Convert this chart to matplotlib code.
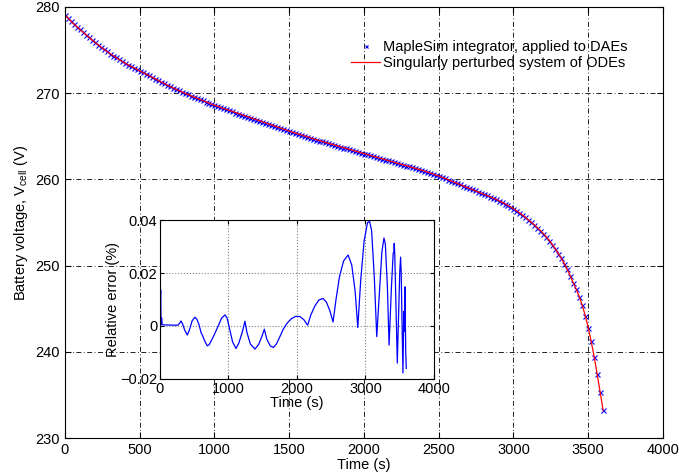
"""Battery voltage: MapleSim DAE integrator vs singularly perturbed ODEs."""

import numpy as np
import matplotlib as mpl
mpl.use('Agg')
from matplotlib import pyplot as plt
from matplotlib.ticker import FuncFormatter

plt.rcParams['font.family'] = ['Liberation Sans', 'DejaVu Sans']
plt.rcParams['font.size'] = 10.5

# main curve, one value every 20 s
time_s = np.arange(0, 3601, 20)
v_daes = [
    279.10, 278.72, 278.36, 278.02, 277.70, 277.40,
    277.10, 276.80, 276.50, 276.20, 275.90,
    275.63, 275.36, 275.10, 274.85, 274.60,
    274.37, 274.15, 273.93, 273.71, 273.50,
    273.31, 273.13, 272.95, 272.77, 272.60,
    272.42, 272.24, 272.06, 271.88, 271.70,
    271.52, 271.34, 271.16, 270.98, 270.80,
    270.64, 270.48, 270.32, 270.16, 270.00,
    269.86, 269.72, 269.58, 269.44, 269.30,
    269.16, 269.02, 268.88, 268.74, 268.60,
    268.48, 268.36, 268.24, 268.12, 268.00,
    267.88, 267.76, 267.64, 267.52, 267.40,
    267.28, 267.16, 267.04, 266.92, 266.80,
    266.68, 266.56, 266.44, 266.32, 266.20,
    266.08, 265.96, 265.84, 265.72, 265.60,
    265.49, 265.38, 265.27, 265.16, 265.05,
    264.94, 264.83, 264.72, 264.61, 264.50,
    264.40, 264.30, 264.20, 264.10, 264.00,
    263.90, 263.80, 263.70, 263.60, 263.50,
    263.40, 263.30, 263.20, 263.10, 263.00,
    262.90, 262.80, 262.70, 262.60, 262.50,
    262.40, 262.30, 262.20, 262.10, 262.00,
    261.90, 261.80, 261.70, 261.60, 261.50,
    261.40, 261.30, 261.20, 261.10, 261.00,
    260.88, 260.76, 260.64, 260.52, 260.40,
    260.26, 260.12, 259.98, 259.84, 259.70,
    259.56, 259.42, 259.28, 259.14, 259.00,
    258.86, 258.72, 258.58, 258.44, 258.30,
    258.15, 258.00, 257.85, 257.70, 257.55,
    257.38, 257.20, 257.01, 256.81, 256.60,
    256.37, 256.12, 255.86, 255.59, 255.30,
    255.02, 254.72, 254.40, 254.06, 253.70,
    253.32, 252.90, 252.44, 251.94, 251.40,
    250.85, 250.23, 249.55, 248.81, 248.00,
    247.25, 246.40, 245.40, 244.20, 242.80,
    241.20, 239.40, 237.40, 235.30, 233.20,
]
v_odes = list(v_daes)  # the two solutions coincide at this scale

# relative error between the two (%)
err_t = [0, 10, 16, 24, 32, 45, 100, 200, 260, 280, 307, 330, 360, 399, 430,
         470, 511, 540, 570, 600, 620, 650, 691, 720, 780, 850, 900, 950,
         980, 1020, 1060, 1110, 1150, 1200, 1241, 1270, 1320, 1387, 1440,
         1490, 1524, 1560, 1610, 1655, 1700, 1760, 1800, 1860, 1920, 1980,
         2040, 2100, 2156, 2200, 2260, 2320, 2380, 2430, 2480, 2527, 2570,
         2620, 2680, 2746, 2800, 2850, 2888, 2930, 2980, 3030, 3060, 3090,
         3130, 3165, 3200, 3240, 3270, 3290, 3320, 3345, 3380, 3405, 3415,
         3420, 3428, 3465, 3500, 3513, 3522, 3547, 3560, 3567, 3577, 3588,
         3596]
err_pct = [0.0005, 0.0137, 0.0005, 0.0030, 0.0006, 0.0004, 0.0004, 0.0003,
           0.0003, 0.0008, 0.0019, 0.0008, -0.0015, -0.0034, -0.0015,
           0.0020, 0.0033, 0.0025, 0.0005, -0.0025, -0.0035, -0.0055,
           -0.0075, -0.0070, -0.0040, 0.0000, 0.0030, 0.0042, 0.0030,
           -0.0015, -0.0060, -0.0085, -0.0065, -0.0025, 0.0018, -0.0025,
           -0.0068, -0.0087, -0.0070, -0.0038, -0.0012, -0.0050, -0.0075,
           -0.0081, -0.0068, -0.0035, -0.0012, 0.0012, 0.0028, 0.0036,
           0.0036, 0.0024, 0.0003, 0.0040, 0.0075, 0.0098, 0.0104, 0.0090,
           0.0058, 0.0015, 0.0100, 0.0185, 0.0245, 0.0268, 0.0230, 0.0130,
           -0.0006, 0.0170, 0.0320, 0.0390, 0.0395, 0.0360, 0.0180, -0.0040,
           0.0110, 0.0280, 0.0332, 0.0310, 0.0150, -0.0072, 0.0150, 0.0275,
           0.0280, 0.0312, 0.0270, -0.0140, 0.0200, 0.0260, 0.0200, -0.0177,
           0.0055, -0.0020, 0.0148, -0.0100, -0.0160]

fig = plt.figure(figsize=(6.79, 4.76), dpi=100)
ax = fig.add_axes([0.0957, 0.0798, 0.8807, 0.9055])

ax.plot(time_s, v_daes, 'x', color='blue', markersize=3.6, markeredgewidth=0.8,
        label='MapleSim integrator, applied to DAEs')
ax.plot(time_s, v_odes, '-', color='red', linewidth=0.9,
        label='Singularly perturbed system of ODEs')
ax.set_xlim(0, 4000)
ax.set_ylim(230, 280)
ax.set_xticks(np.arange(0, 4001, 500))
ax.set_yticks(np.arange(230, 281, 10))
ax.grid(True, color='black', linestyle=(0, (6, 3, 1, 3)), linewidth=0.6)
ax.tick_params(direction='in', top=True, right=True, length=4)
ax.set_xlabel('Time (s)', labelpad=1)
ax.set_ylabel('Battery voltage, V$_\\mathregular{cell}$ (V)', labelpad=4)
ax.legend(loc='upper right', bbox_to_anchor=(0.944, 0.944),
          bbox_transform=fig.transFigure, frameon=False, markerscale=0.6,
          handlelength=2.0, handletextpad=0.2, labelspacing=0.15)

# inset: relative error
ins = fig.add_axes([0.2356, 0.2038, 0.4035, 0.334])
ins.plot(err_t, err_pct, color='blue', linewidth=0.9)
ins.set_xlim(0, 4000)
ins.set_ylim(-0.02, 0.04)
ins.set_xticks(np.arange(0, 4001, 1000))
ins.set_yticks([-0.02, 0, 0.02, 0.04])
ins.yaxis.set_major_formatter(
    FuncFormatter(lambda v, p: '0' if abs(v) < 1e-9 else ('%g' % v).replace('-', '\u2212')))
ins.grid(True, color='gray', linestyle=':', linewidth=0.8)
ins.tick_params(direction='in', top=True, right=True, length=3, pad=2)
ins.set_xlabel('Time (s)', labelpad=0)
ins.set_ylabel('Relative error (%)', labelpad=0)

fig.savefig('out.png', dpi=100)
